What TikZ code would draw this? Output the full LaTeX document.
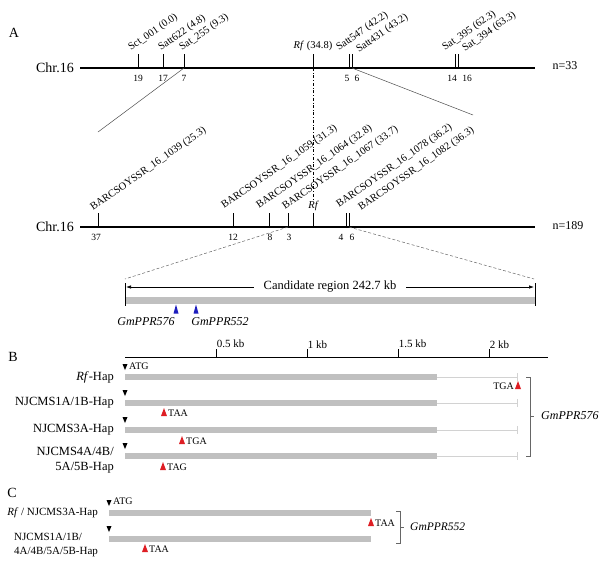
\documentclass[tikz,border=0pt]{standalone}
\usepackage{fontspec}
\setmainfont{Liberation Serif}
\usetikzlibrary{arrows.meta,positioning}

\definecolor{genebar}{RGB}{192,192,192}
\definecolor{utrline}{RGB}{210,210,210}
\definecolor{stopred}{RGB}{222,30,36}
\definecolor{markblue}{RGB}{30,30,190}

\tikzset{
  chrom/.style={line width=1.2pt},
  mtick/.style={line width=0.8pt},
  mlab/.style={rotate=35,anchor=base west,inner sep=0pt,font=\fontsize{10.5}{12}\selectfont},
  mnum/.style={inner sep=0pt,font=\fontsize{9.5}{11}\selectfont},
  chrname/.style={inner sep=0pt,font=\fontsize{14}{16}\selectfont},
  nsize/.style={inner sep=0pt,font=\fontsize{12}{14}\selectfont},
  link/.style={line width=0.5pt,black!70},
  zoomlink/.style={line width=0.5pt,black!60,densely dashed},
  panel/.style={inner sep=0pt,font=\fontsize{14}{16}\selectfont},
  hap/.style={anchor=east,inner sep=0pt,align=right,font=\fontsize{12.5}{15}\selectfont},
  hapc/.style={inner sep=0pt,font=\fontsize{11}{14}\selectfont},
  codon/.style={anchor=west,inner sep=0pt,font=\fontsize{10}{12}\selectfont},
  gene/.style={inner sep=0pt,font=\fontsize{12}{14}\selectfont\itshape},
  scalelab/.style={anchor=south west,inner sep=0.5pt,font=\fontsize{11}{12}\selectfont},
  utr/.style={utrline,line width=0.8pt},
  brak/.style={black!60,line width=0.6pt},
  stopup/.pic={\fill[stopred] (-3,4) -- (3,4) -- (0,-4) -- cycle;},
  startdown/.pic={\fill[black] (-2.5,-3) -- (2.5,-3) -- (0,3) -- cycle;},
  locus/.pic={\fill[markblue] (-2.5,4.5) -- (2.5,4.5) -- (0,-4.5) -- cycle;},
}

\begin{document}
\begin{tikzpicture}[x=1pt,y=-1pt]
  \useasboundingbox (0,0) rectangle (599,563);

  % A: linkage map, n=33
  \node[panel] (pA) at (14,33) {A};
  \node[chrname] (chrA) at (55,68) {Chr.16};
  \draw[chrom] (80,68) -- (535,68);
  \node[nsize] (nA) at (565,66) {n=33};

  \foreach \x/\m in {138/sct,163/satt622,184/sat255,313/rfA,349/satt547,352/satt431,455/sat395,458/sat394}
    \draw[mtick] (\x,68) coordinate (\m) -- (\x,54);

  \foreach \x/\n [count=\i] in {138/19,163/17,184/7,347/5,357/6,452/14,467/16}
    \node[mnum] (numA\i) at (\x,78) {\n};

  \node[mlab] (lsct) at (131,51) {Sct\_001 (0.0)};
  \node[mlab] (lsatt622) at (161,51) {Satt622 (4.8)};
  \node[mlab] (lsat255) at (182,51) {Sat\_255 (9.3)};
  \node[mlab] (lsatt547) at (339,51) {Satt547 (42.2)};
  \node[mlab] (lsatt431) at (359,53) {Satt431 (43.2)};
  \node[mlab] (lsat395) at (445,51) {Sat\_395 (62.3)};
  \node[mlab] (lsat394) at (465,52) {Sat\_394 (63.3)};
  \node[font=\fontsize{10.5}{12}\selectfont,inner sep=0pt] (lrfA) at (313,46) {\textit{Rf} (34.8)};

  % A: fine map, n=189
  \node[chrname] (chrB) at (55,227) {Chr.16};
  \draw[chrom] (80,227) -- (535,227);
  \node[nsize] (nB) at (568,226) {n=189};

  \foreach \x/\m in {98/b1039,233/b1059,269/b1064,288/b1067,313/rfB,346/b1078,349/b1082}
    \draw[mtick] (\x,227) coordinate (\m) -- (\x,213);

  \foreach \x/\n [count=\i] in {96/37,233/12,270/8,289/3,341/4,352/6}
    \node[mnum] (numB\i) at (\x,237) {\n};

  \node[mlab] (l1039) at (93,211) {BARCSOYSSR\_16\_1039 (25.3)};
  \node[mlab] (l1059) at (224,209) {BARCSOYSSR\_16\_1059 (31.3)};
  \node[mlab] (l1064) at (259,209) {BARCSOYSSR\_16\_1064 (32.8)};
  \node[mlab] (l1067) at (285,210) {BARCSOYSSR\_16\_1067 (33.7)};
  \node[mlab] (l1078) at (339,208) {BARCSOYSSR\_16\_1078 (36.2)};
  \node[mlab] (l1082) at (361,211) {BARCSOYSSR\_16\_1082 (36.3)};
  \node[font=\fontsize{10.5}{12}\selectfont\itshape,inner sep=0pt] (lrfB) at (313,206) {Rf};

  \draw[dash dot,line width=0.6pt] (rfA) -- (lrfB.north);

  \coordinate (zoomL) at (98,132);
  \coordinate (zoomR) at (473,115);
  \draw[link] (sat255) -- (zoomL);
  \draw[link] (satt431) -- (zoomR);

  % candidate region
  \coordinate (candL) at (125,279);
  \coordinate (candR) at (534,279);
  \draw[zoomlink] (b1067) -- (candL);
  \draw[zoomlink] (b1082) -- (candR);

  \fill[genebar] (125,297) rectangle (535,304);
  \draw[line width=1pt] (125,283) -- (125,306);
  \draw[line width=1pt] (535,283) -- (535,306);
  \draw[{Latex[length=5pt,width=3.5pt]}-{Latex[length=5pt,width=3.5pt]},line width=0.7pt]
    (126,287) -- node[fill=white,inner xsep=10pt,inner ysep=1pt,font=\fontsize{12.5}{14}\selectfont] (cand) {Candidate region 242.7 kb} (534,287);

  \pic at (176,309) {locus};
  \pic at (196,309) {locus};
  \node[gene] (g576) at (146,322) {GmPPR576};
  \node[gene] (g552) at (220,322) {GmPPR552};

  % B: GmPPR576 haplotypes
  \node[panel] (pB) at (13,357) {B};
  \draw[line width=1pt] (125,357) -- (548,357);
  \foreach \k/\kb in {1/0.5,2/1,3/1.5,4/2}
    \draw[line width=0.8pt] (125+91*\k,357) -- (125+91*\k,349) node[scalelab] (kb\k) {\kb~kb};

  \foreach \y in {377,403,430,456} {
    \fill[genebar] (125,\y-3) rectangle (437,\y+3);
    \draw[utr] (437,\y) -- (517,\y);
    \draw[utr] (517,\y-4) -- (517,\y+4);
    \pic at (125,\y-10) {startdown};
  }
  \node[codon] (atgB) at (129,366) {ATG};

  \node[hap] (hapB1) at (114,377) {\textit{Rf}-Hap};
  \node[hap] (hapB2) at (114,403) {NJCMS1A/1B-Hap};
  \node[hap] (hapB3) at (114,430) {NJCMS3A-Hap};
  \node[hap] (hapB4) at (114,460) {NJCMS4A/4B/\\5A/5B-Hap};

  \pic at (518,385) {stopup};
  \node[codon,anchor=east] (stB1) at (514,386) {TGA};
  \pic at (164,412) {stopup};
  \node[codon] (stB2) at (168,413) {TAA};
  \pic at (182,440) {stopup};
  \node[codon] (stB3) at (186,441) {TGA};
  \pic at (163,466) {stopup};
  \node[codon] (stB4) at (167,467) {TAG};

  \draw[brak] (526,377) -- (530,377) -- (530,456) -- (526,456);
  \draw[brak] (530,416) -- (534,416);
  \node[gene,anchor=west] (g576b) at (541,416) {GmPPR576};

  % C: GmPPR552 haplotypes
  \node[panel] (pC) at (12,493) {C};
  \foreach \y in {513,539} {
    \fill[genebar] (109,\y-3) rectangle (371,\y+3);
    \pic at (109,\y-10) {startdown};
  }
  \node[codon] (atgC) at (113,501) {ATG};

  \node[hapc,anchor=east] (hapC1) at (98,513) {\textit{Rf} / NJCMS3A-Hap};
  \node[hapc,anchor=west,align=left] (hapC2) at (14,545) {NJCMS1A/1B/\\4A/4B/5A/5B-Hap};

  \pic at (371,522) {stopup};
  \node[codon] (stC1) at (375,523) {TAA};
  \pic at (145,548) {stopup};
  \node[codon] (stC2) at (149,549) {TAA};

  \draw[brak] (396,511) -- (400,511) -- (400,543) -- (396,543);
  \draw[brak] (400,527) -- (404,527);
  \node[gene,anchor=west,font=\fontsize{11.5}{13}\selectfont\itshape] (g552b) at (410,527) {GmPPR552};
\end{tikzpicture}
\end{document}
